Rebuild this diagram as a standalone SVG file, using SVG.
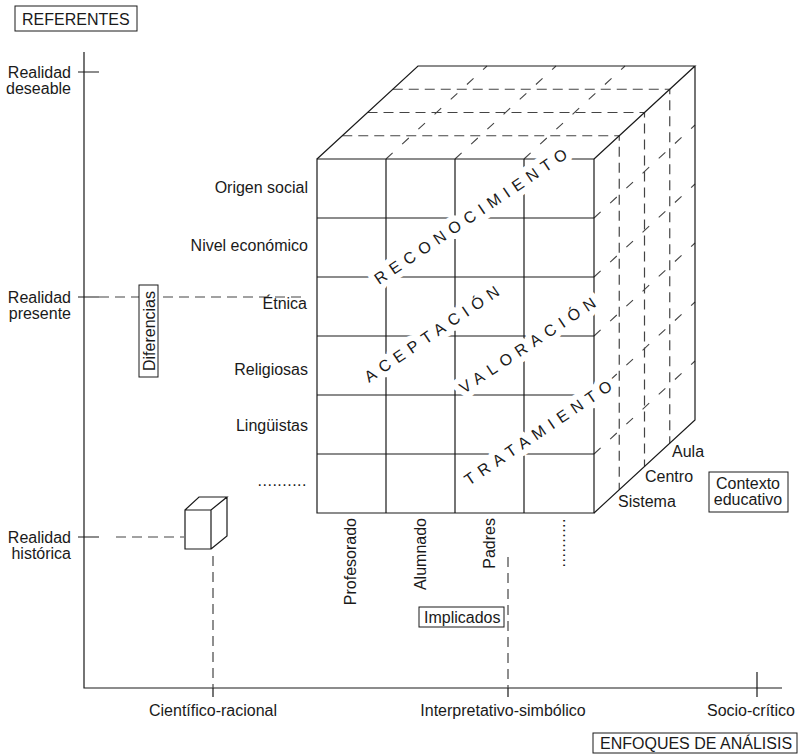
<svg xmlns="http://www.w3.org/2000/svg" width="798" height="754" viewBox="0 0 798 754">
<style>
text{font-family:"Liberation Sans",Arial,sans-serif;font-size:16px;fill:#1a1a1a}
.s{fill:none;stroke:#1a1a1a;stroke-width:1.2}
.box{fill:#fff;stroke:#1a1a1a;stroke-width:1}
.d{fill:none;stroke:#444;stroke-width:1.2;stroke-dasharray:10 6}
.dd{fill:none;stroke:#444;stroke-width:1.1;stroke-dasharray:9 13}
.e{text-anchor:end}
.m{text-anchor:middle}
.diag text{font-size:16px;letter-spacing:6.2px}
.halo text{fill:#fff;stroke:#fff;stroke-width:12;stroke-linejoin:round}
</style>
<rect width="798" height="754" fill="#fff"/>
<g id="connectors">
<path class="s" d="M84 52V688H782"/>
<path class="s" d="M78 72H99M78 297H99M78 537H99M213 688V697M508 688V697M757 672V697"/>
<path class="d" d="M99 297H306M116 537H184"/>
<path class="d" d="M213 556V688M508 557V688"/>
</g>
<g id="referentes">
<rect class="box" x="15" y="6" width="122" height="25"/>
<text x="22" y="25">REFERENTES</text>
</g>
<g id="realidad-deseable">
<text class="e" x="71" y="78">Realidad</text>
<text class="e" x="71" y="94">deseable</text>
</g>
<g id="realidad-presente">
<text class="e" x="71" y="303">Realidad</text>
<text class="e" x="71" y="319">presente</text>
</g>
<g id="realidad-historica">
<text class="e" x="71" y="543">Realidad</text>
<text class="e" x="71" y="559">histórica</text>
</g>
<g id="diferencias">
<rect class="box" x="139" y="285" width="19" height="92"/>
<text class="m" transform="translate(154.5,331) rotate(-90)">Diferencias</text>
</g>
<g id="small-cube">
<path class="s" d="M185 510H211V549H185ZM185 510L199 497H227L211 510M211 549L227 536V497"/>
</g>
<g id="cube">
<path class="dd" d="M386 159L487 66M455 159L556 66M524 159L625 66"/>
<path class="dd" d="M594 218L695 125M594 277L695 184M594 336L695 243M594 395L695 302M594 454L695 361"/>
<path class="d" d="M342.25 135.75H619.25V489.75M367.5 112.5H644.5V466.5M392.75 89.25H669.75V443.25"/>
<path class="s" d="M317 159H594V513H317ZM317 218H594M317 277H594M317 336H594M317 395H594M317 454H594M386 159V513M455 159V513M524 159V513"/>
<path class="s" d="M317 159L418 66H695L594 159M695 66V420L594 513"/>
<g class="diag halo">
<text transform="translate(379,285) rotate(-34)">RECONOCIMIENTO</text>
<text transform="translate(369,383) rotate(-34)">ACEPTACIÓN</text>
<text transform="translate(464,394) rotate(-33.5)">VALORACIÓN</text>
<text transform="translate(469,486) rotate(-34)">TRATAMIENTO</text>
</g>
<g class="diag">
<text transform="translate(379,285) rotate(-34)">RECONOCIMIENTO</text>
<text transform="translate(369,383) rotate(-34)">ACEPTACIÓN</text>
<text transform="translate(464,394) rotate(-33.5)">VALORACIÓN</text>
<text transform="translate(469,486) rotate(-34)">TRATAMIENTO</text>
</g>
</g>
<g id="rows">
<text class="e" x="308" y="193">Origen social</text>
<text class="e" x="308" y="251">Nivel económico</text>
<text class="e" x="307" y="309">Étnica</text>
<text class="e" x="308" y="375">Religiosas</text>
<text class="e" x="308" y="431">Lingüistas</text>
<text class="e" x="307" y="486" style="letter-spacing:0.5px">..........</text>
</g>
<g id="columns">
<text class="e" transform="translate(355.5,518) rotate(-90)">Profesorado</text>
<text class="e" transform="translate(425.5,518) rotate(-90)">Alumnado</text>
<text class="e" transform="translate(494.5,518) rotate(-90)">Padres</text>
<text class="e" transform="translate(565,518) rotate(-90)" style="letter-spacing:0.5px">..........</text>
</g>
<g id="contexto-levels">
<text x="672" y="457">Aula</text>
<text x="645" y="482">Centro</text>
<text x="618" y="507">Sistema</text>
</g>
<g id="contexto-educativo">
<rect class="box" x="709" y="472" width="79" height="40"/>
<text class="m" x="748" y="489">Contexto</text>
<text class="m" x="748" y="505">educativo</text>
</g>
<g id="implicados">
<rect class="box" x="419" y="607" width="85" height="20"/>
<text x="424" y="623">Implicados</text>
</g>
<g id="enfoques">
<text class="m" x="213" y="716">Científico-racional</text>
<text class="m" x="503" y="716">Interpretativo-simbólico</text>
<text class="e" x="795" y="716">Socio-crítico</text>
</g>
<g id="enfoques-de-analisis">
<rect class="box" x="593" y="733" width="204" height="20"/>
<text x="600" y="749">ENFOQUES DE ANÁLISIS</text>
</g>
</svg>
